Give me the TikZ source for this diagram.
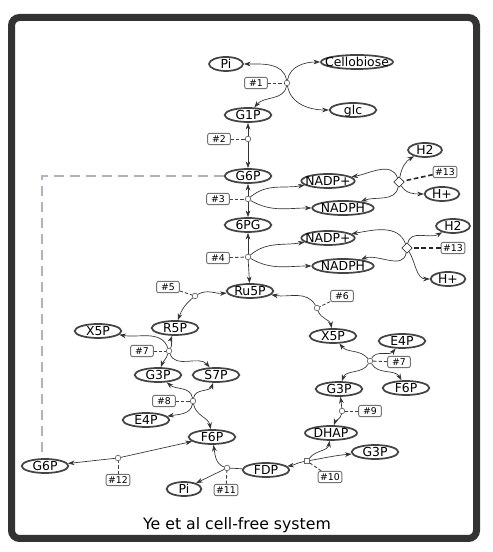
\documentclass[tikz,border=0pt]{standalone}
\usepackage{fontspec}
\setmainfont{DejaVu Sans}
\usetikzlibrary{shapes.geometric,arrows.meta}
\newcommand{\mt}[1]{\makebox[0pt]{\raisebox{-0.36em}[0pt][0pt]{#1}}}
\definecolor{frm}{HTML}{333333}
\definecolor{edg}{HTML}{444444}
\definecolor{gdash}{HTML}{B0B4C0}
\begin{document}
\begin{tikzpicture}[x=0.75pt,y=0.75pt,
  met/.style={ellipse, draw=edg, line width=1.3pt, fill=white, inner sep=0pt,
    minimum width=35pt, minimum height=10.5pt, font=\fontsize{9.3}{10}\selectfont},
  rbox/.style={rectangle, rounded corners=1.5pt, draw=black!55, line width=0.7pt, fill=white,
    inner xsep=1.5pt, inner ysep=0pt, minimum width=17pt, minimum height=8.5pt,
    font=\fontsize{7}{8}\selectfont},
  rpt/.style={circle, draw=black!60, fill=white, inner sep=0pt, minimum size=4.2pt, line width=0.5pt},
  rdia/.style={diamond, draw=black!75, fill=white, inner sep=0pt, minimum size=8pt, line width=0.6pt},
  rsq/.style={rectangle, draw=black!60, fill=white, inner sep=0pt, minimum size=4pt, line width=0.5pt},
  conn/.style={draw=black!80, line width=0.5pt, -{Stealth[length=5pt,width=3.5pt]}},
  plain/.style={draw=black!80, line width=0.5pt},
  dsh/.style={draw=black!75, dash pattern=on 2.5pt off 1.5pt, line width=0.65pt},
  dshb/.style={draw=black!85, dash pattern=on 3.5pt off 2pt, line width=1.2pt}
]
\useasboundingbox (0,0) rectangle (492,552);
\fill[white] (0,0) rectangle (492,552);
\draw[line width=5.25pt, draw=frm, rounded corners=6pt] (11.5,13.5) rectangle (476.5,534.5);

% metabolites
\node[met, minimum width=25.5pt] (Pi1) at (226,488) {\mt{Pi}};
\node[met, minimum width=54pt] (Cello) at (357,490) {\mt{Cellobiose}};
\node[met] (glc) at (353,442) {\mt{glc}};
\node[met] (G1P) at (248,437) {\mt{G1P}};
\node[met] (G6P) at (248,376) {\mt{G6P}};
\node[met] (PG) at (248,327) {\mt{6PG}};
\node[met] (Ru5P) at (250,261) {\mt{Ru5P}};
\node[met, minimum width=40pt] (NADPa) at (328,371) {\mt{NADP+}};
\node[met, minimum width=46pt] (NADPHa) at (343,344) {\mt{NADPH}};
\node[met, minimum width=25.5pt] (H2a) at (425,402) {\mt{H2}};
\node[met, minimum width=26pt] (Hpa) at (442,358) {\mt{H+}};
\node[met, minimum width=40pt] (NADPb) at (328,314) {\mt{NADP+}};
\node[met, minimum width=46pt] (NADPHb) at (343,286) {\mt{NADPH}};
\node[met, minimum width=25.5pt] (H2b) at (453,326) {\mt{H2}};
\node[met, minimum width=26pt] (Hpb) at (448,273) {\mt{H+}};
\node[met] (R5P) at (175,224) {\mt{R5P}};
\node[met] (X5Pl) at (98,221) {\mt{X5P}};
\node[met] (G3Pl) at (158,177) {\mt{G3P}};
\node[met] (S7P) at (216,177) {\mt{S7P}};
\node[met] (E4Pl) at (146,132) {\mt{E4P}};
\node[met] (F6Pl) at (212,115) {\mt{F6P}};
\node[met] (G6Pb) at (45,86) {\mt{G6P}};
\node[met, minimum width=26pt] (Pib) at (184,63) {\mt{Pi}};
\node[met] (FDP) at (266,82) {\mt{FDP}};
\node[met, minimum width=39pt] (DHAP) at (331,119) {\mt{DHAP}};
\node[met] (G3Pbr) at (375,100) {\mt{G3P}};
\node[met] (G3Pr) at (339,163) {\mt{G3P}};
\node[met] (F6Pr) at (406,164) {\mt{F6P}};
\node[met] (X5Pr) at (333,216) {\mt{X5P}};
\node[met] (E4Pr) at (402,211) {\mt{E4P}};

% reaction points
\node[rpt] (R1) at (287,469) {};
\node[rpt] (R2) at (248,413) {};
\node[rpt] (R3) at (248,353) {};
\node[rpt] (R4) at (248,295) {};
\node[rdia] (D13a) at (399,370) {};
\node[rdia] (D13b) at (407,304) {};
\node[rpt] (R5) at (195,256) {};
\node[rpt] (R6) at (317,244) {};
\node[rpt] (R7l) at (169,201) {};
\node[rpt] (R8) at (193,151) {};
\node[rpt] (R12) at (118,94) {};
\node[rpt] (R11) at (227,84) {};
\node[rsq] (R10) at (307,91) {};
\node[rpt] (R9) at (342,141) {};
\node[rpt] (R7r) at (370,191) {};

% enzyme boxes
\node[rbox] (b1) at (256,469) {\#1};
\node[rbox] (b2) at (219,413) {\#2};
\node[rbox] (b3) at (218,353) {\#3};
\node[rbox] (b4) at (218,294) {\#4};
\node[rbox] (b13a) at (445,380) {\#13};
\node[rbox] (b13b) at (453,304) {\#13};
\node[rbox] (b5) at (168,265) {\#5};
\node[rbox] (b6) at (342,256) {\#6};
\node[rbox] (b7l) at (142,201) {\#7};
\node[rbox] (b8) at (164,151) {\#8};
\node[rbox] (b12) at (118,72) {\#12};
\node[rbox] (b11) at (226,62) {\#11};
\node[rbox] (b10) at (330,75) {\#10};
\node[rbox] (b9) at (370,141) {\#9};
\node[rbox] (b7r) at (399,190) {\#7};

% grey dashed link
\coordinate (gc) at (42,376);
\draw[draw=gdash, dash pattern=on 7.5pt off 4.5pt, line width=0.8pt] (G6P.west) -- (gc) -- (gc |- G6Pb.north);

% #1
\draw[conn] (R1) to[out=100,in=0] (Pi1);
\draw[conn] (R1) to[out=-80,in=180] (glc);
\draw[conn] (R1) to[out=80,in=180] (Cello);
\draw[conn] (R1) to[out=-100,in=50] (G1P);
\draw[dsh] (b1) -- (R1);
% #2
\draw[conn] (R2) -- (G1P);
\draw[conn] (R2) -- (G6P);
\draw[dsh] (b2) -- (R2);
% #3
\draw[conn] (R3) -- (G6P);
\draw[conn] (R3) -- (PG);
\draw[conn] (R3) to[out=40,in=190] (NADPa);
\draw[conn] (R3) to[out=-30,in=180] (NADPHa);
\draw[dsh] (b3) -- (R3);
% #13a
\draw[conn] (D13a) to[out=110,in=10] (NADPa);
\draw[conn] (D13a) to[out=-60,in=180] (Hpa);
\draw[conn] (D13a) to[out=80,in=210] (H2a);
\draw[conn] (D13a) to[out=-100,in=20] (NADPHa);
\draw[dshb] (b13a) -- (D13a);
% #4
\draw[conn] (R4) -- (PG);
\draw[conn] (R4) -- (Ru5P);
\draw[conn] (R4) to[out=40,in=190] (NADPb);
\draw[conn] (R4) to[out=-30,in=180] (NADPHb);
\draw[dsh] (b4) -- (R4);
% #13b
\draw[conn] (D13b) to[out=110,in=10] (NADPb);
\draw[conn] (D13b) to[out=-60,in=180] (Hpb);
\draw[conn] (D13b) to[out=80,in=210] (H2b);
\draw[conn] (D13b) to[out=-100,in=20] (NADPHb);
\draw[dshb] (b13b) -- (D13b);
% #5
\draw[conn] (R5) to[out=30,in=185] (Ru5P);
\draw[conn] (R5) to[out=-140,in=70] (R5P);
\draw[dsh] (b5) -- (R5);
% #6
\draw[conn] (R6) to[out=120,in=-10] (Ru5P);
\draw[conn] (R6) to[out=-70,in=100] (X5Pr);
\draw[dsh] (b6) -- (R6);
% #7 left
\draw[conn] (R7l) to[out=110,in=-10] (X5Pl);
\draw[conn] (R7l) to[out=-70,in=130] (S7P);
\draw[conn] (R7l) to[out=60,in=-110] (R5P);
\draw[conn] (R7l) to[out=-110,in=70] (G3Pl);
\draw[dsh] (b7l) -- (R7l);
% #8
\draw[conn] (R8) to[out=100,in=-40] (G3Pl);
\draw[conn] (R8) to[out=80,in=-110] (S7P);
\draw[conn] (R8) to[out=-100,in=10] (E4Pl);
\draw[conn] (R8) to[out=-80,in=100] (F6Pl);
\draw[dsh] (b8) -- (R8);
% #12
\draw[conn] (R12) -- (G6Pb);
\draw[conn] (R12) -- (F6Pl);
\draw[dsh] (b12) -- (R12);
% #11
\draw[plain] (FDP) -- (R11);
\draw[conn] (R11) to[out=160,in=-80] (F6Pl);
\draw[conn] (R11) -- (Pib);
\draw[dsh] (b11) -- (R11);
% #10
\draw[conn] (R10) to[out=-170,in=10] (FDP);
\draw[conn] (R10) to[out=50,in=-100] (DHAP);
\draw[conn] (R10) to[out=10,in=185] (G3Pbr);
\draw[dsh] (b10) -- (R10);
% #9
\draw[conn] (R9) to[out=95,in=-80] (G3Pr);
\draw[conn] (R9) to[out=-100,in=70] (DHAP);
\draw[dsh] (b9) -- (R9);
% #7 right
\draw[conn] (R7r) to[out=130,in=-50] (X5Pr);
\draw[conn] (R7r) to[out=-60,in=120] (F6Pr);
\draw[conn] (R7r) to[out=60,in=-130] (E4Pr);
\draw[conn] (R7r) to[out=-120,in=70] (G3Pr);
\draw[dsh] (b7r) -- (R7r);

\node (title) at (237,27) {\fontsize{11.8}{14}\selectfont Ye et al cell-free system};
\end{tikzpicture}
\end{document}
